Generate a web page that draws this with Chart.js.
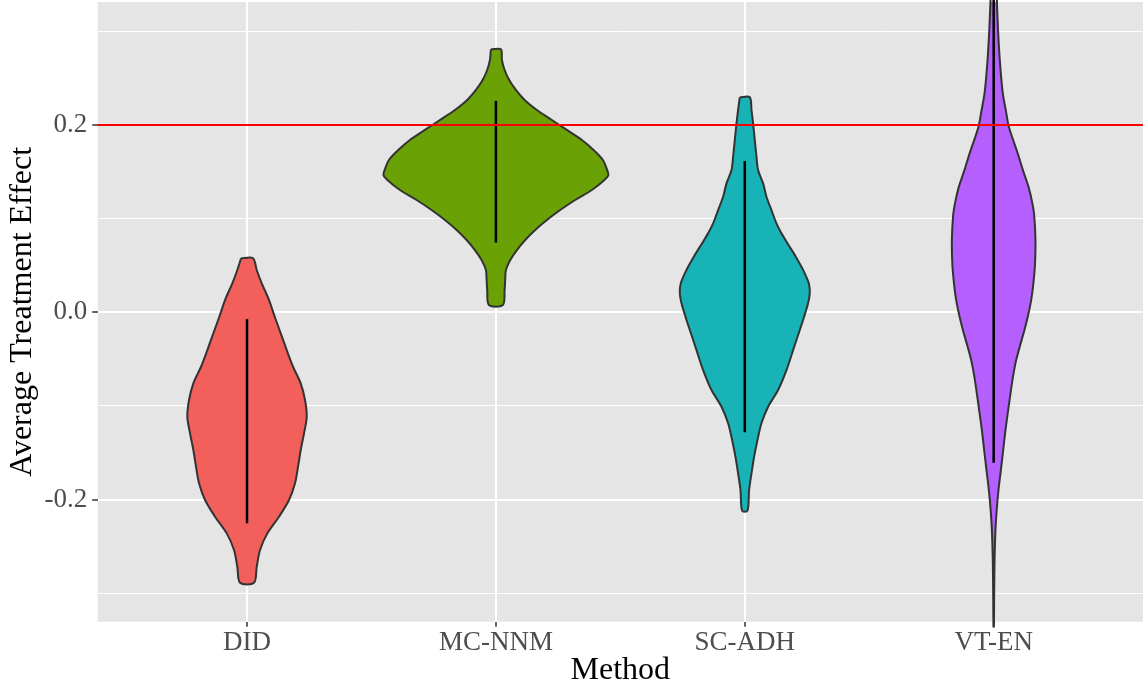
<!DOCTYPE html>
<html>
<head>
<meta charset="utf-8">
<script src="https://cdn.jsdelivr.net/npm/chart.js@4.4.1/dist/chart.umd.min.js"></script>
<style>
  html, body { margin: 0; padding: 0; background: #ffffff; }
  #wrap { width: 1143px; height: 690px; }
</style>
</head>
<body>
<div id="wrap"><canvas id="chart" width="1143" height="690"></canvas></div>
<script>
// Methods compared on the x axis
const methods = ['DID', 'MC-NNM', 'SC-ADH', 'VT-EN'];

// Violin outlines: estimate levels (top to bottom) and half-widths of the density, in category units
const didLevels = [0.0577, 0.0452, 0.0310, 0.0131, -0.0047, -0.0224, -0.0403, -0.0581, -0.0758, -0.0936, -0.1115, -0.1292, -0.1470, -0.1649, -0.1826, -0.2004, -0.2182, -0.2360, -0.2538, -0.2716, -0.2887];
const didWidth  = [0.0241, 0.0390, 0.0591, 0.0884, 0.1113, 0.1354, 0.1595, 0.1848, 0.2157, 0.2330, 0.2399, 0.2290, 0.2157, 0.2049, 0.1928, 0.1687, 0.1286, 0.0816, 0.0522, 0.0390, 0.0281];

const mcnnmLevels = [0.2808, 0.2694, 0.2587, 0.2480, 0.2374, 0.2267, 0.2160, 0.2053, 0.1947, 0.1840, 0.1733, 0.1626, 0.1520, 0.1466, 0.1413, 0.1306, 0.1199, 0.1092, 0.0985, 0.0879, 0.0772, 0.0665, 0.0559, 0.0452, 0.0345, 0.0238, 0.0078];
const mcnnmWidth  = [0.0201, 0.0241, 0.0350, 0.0534, 0.0804, 0.1153, 0.1647, 0.2250, 0.2853, 0.3455, 0.3925, 0.4299, 0.4470, 0.4520, 0.4360, 0.3857, 0.3186, 0.2583, 0.2049, 0.1579, 0.1177, 0.0844, 0.0575, 0.0402, 0.0374, 0.0350, 0.0281];

const scadhLevels = [0.2296, 0.2160, 0.2018, 0.1839, 0.1661, 0.1519, 0.1377, 0.1234, 0.1092, 0.0950, 0.0843, 0.0737, 0.0594, 0.0452, 0.0310, 0.0203, 0.0096, -0.0047, -0.0189, -0.0403, -0.0617, -0.0830, -0.1008, -0.1185, -0.1364, -0.1542, -0.1719, -0.1898, -0.2118];
const scadhWidth  = [0.0201, 0.0269, 0.0333, 0.0402, 0.0470, 0.0534, 0.0736, 0.0870, 0.1071, 0.1272, 0.1473, 0.1714, 0.2049, 0.2344, 0.2572, 0.2611, 0.2543, 0.2383, 0.2210, 0.1941, 0.1675, 0.1338, 0.0937, 0.0669, 0.0510, 0.0375, 0.0269, 0.0173, 0.0108];

const vtenLevels = [0.3548, 0.3292, 0.2988, 0.2668, 0.2348, 0.2135, 0.1975, 0.1708, 0.1494, 0.1334, 0.1174, 0.1039, 0.0772, 0.0505, 0.0291, 0.0131, -0.0029, -0.0189, -0.0350, -0.0510, -0.0670, -0.0830, -0.1043, -0.1257, -0.1471, -0.1684, -0.1898, -0.2111, -0.2325, -0.2645, -0.2997, -0.3357];
const vtenWidth  = [0.0100, 0.0133, 0.0181, 0.0253, 0.0362, 0.0502, 0.0615, 0.0952, 0.1205, 0.1406, 0.1547, 0.1627, 0.1679, 0.1659, 0.1587, 0.1507, 0.1386, 0.1237, 0.1065, 0.0904, 0.0787, 0.0695, 0.0583, 0.0474, 0.0382, 0.0289, 0.0193, 0.0121, 0.0072, 0.0036, 0.0020, 0.0008];

// Interval drawn inside each violin (lower / upper end)
const intervalLow  = [-0.2253, 0.0745, -0.1280, -0.1606];
const intervalHigh = [-0.0072, 0.2257, 0.1615, 0.36];

// True effect reference line
const trueEffect = 0.2;

// Y axis ticks (every 0.1 gets a grid line, labelled ones are major)
const yTickValues = [-0.3, -0.2, -0.1, 0.0, 0.1, 0.2, 0.3];
const yTickLabels = ['', '-0.2', '', '0.0', '', '0.2', ''];

const violinLevels = [didLevels, mcnnmLevels, scadhLevels, vtenLevels];
const violinWidths = [didWidth, mcnnmWidth, scadhWidth, vtenWidth];
const fillColors = ['#F3605B', '#6AA104', '#18B3B7', '#B55FFF'];

const serif = "'Liberation Serif', 'Times New Roman', serif";

// Closed outline: down the left side, back up the right side
function violinOutline(center, levels, widths) {
  const pts = [];
  for (let i = 0; i < levels.length; i++) pts.push({ x: center - widths[i], y: levels[i] });
  for (let i = levels.length - 1; i >= 0; i--) pts.push({ x: center + widths[i], y: levels[i] });
  pts.push({ x: center - widths[0], y: levels[0] });
  return pts;
}

const datasets = [];

datasets.push({
  label: 'true effect',
  data: [{ x: 0.4, y: trueEffect }, { x: 4.6, y: trueEffect }],
  showLine: true, borderColor: '#FF0000', borderWidth: 2,
  pointRadius: 0, fill: false, order: 0
});

methods.forEach((m, i) => {
  datasets.push({
    label: m + ' interval',
    data: [{ x: i + 1, y: intervalLow[i] }, { x: i + 1, y: intervalHigh[i] }],
    showLine: true, borderColor: '#000000', borderWidth: 2.5,
    pointRadius: 0, fill: false, order: 1, clip: false
  });
});

methods.forEach((m, i) => {
  datasets.push({
    label: m,
    data: violinOutline(i + 1, violinLevels[i], violinWidths[i]),
    showLine: true, borderColor: '#333333', borderWidth: 2,
    backgroundColor: fillColors[i], fill: 'shape', tension: 0.3,
    pointRadius: 0, order: 2, clip: false
  });
});

const panelBackground = {
  id: 'panelBackground',
  beforeDraw(chart) {
    const { ctx, chartArea: a } = chart;
    ctx.save();
    ctx.fillStyle = '#E5E5E5';
    ctx.fillRect(a.left, a.top, a.right - a.left, a.bottom - a.top);
    ctx.restore();
  }
};

new Chart(document.getElementById('chart'), {
  type: 'scatter',
  data: { datasets },
  plugins: [panelBackground],
  options: {
    responsive: false,
    animation: false,
    events: [],
    layout: { padding: { top: 2, right: 0, bottom: 0, left: 0 } },
    plugins: { legend: { display: false }, tooltip: { enabled: false } },
    scales: {
      x: {
        type: 'linear', min: 0.4, max: 4.6,
        afterBuildTicks: s => { s.ticks = methods.map((m, i) => ({ value: i + 1 })); },
        afterFit: s => { s.height = 68.3; s.paddingLeft = 0; s.paddingRight = 0; },
        border: { display: false },
        grid: { color: '#FFFFFF', lineWidth: 2, tickColor: '#333333', tickLength: 5, tickWidth: 1.5 },
        ticks: {
          callback: v => methods[Math.round(v) - 1],
          font: { family: serif, size: 27 }, color: '#4D4D4D',
          padding: 0, maxRotation: 0, autoSkip: false
        },
        title: {
          display: true, text: 'Method', color: '#000000',
          font: { family: serif, size: 32 }, padding: { top: 0, bottom: 0 }
        }
      },
      y: {
        type: 'linear', min: -0.3303, max: 0.3313,
        afterBuildTicks: s => { s.ticks = yTickValues.map(v => ({ value: v })); },
        afterFit: s => { s.width = 97.7; s.paddingTop = 0; s.paddingBottom = 0; },
        border: { display: false },
        grid: {
          color: '#FFFFFF',
          lineWidth: c => (yTickLabels[c.index] ? 2 : 1),
          tickColor: c => (yTickLabels[c.index] ? '#333333' : 'rgba(0,0,0,0)'),
          tickLength: 5.5, tickWidth: 1.5
        },
        ticks: {
          callback: (v, i) => yTickLabels[i],
          font: { family: serif, size: 27 }, color: '#4D4D4D', padding: 5
        },
        title: {
          display: true, text: 'Average Treatment Effect', color: '#000000',
          font: { family: serif, size: 32 }, padding: { top: 3, bottom: 0 }
        }
      }
    }
  }
});
</script>
</body>
</html>
